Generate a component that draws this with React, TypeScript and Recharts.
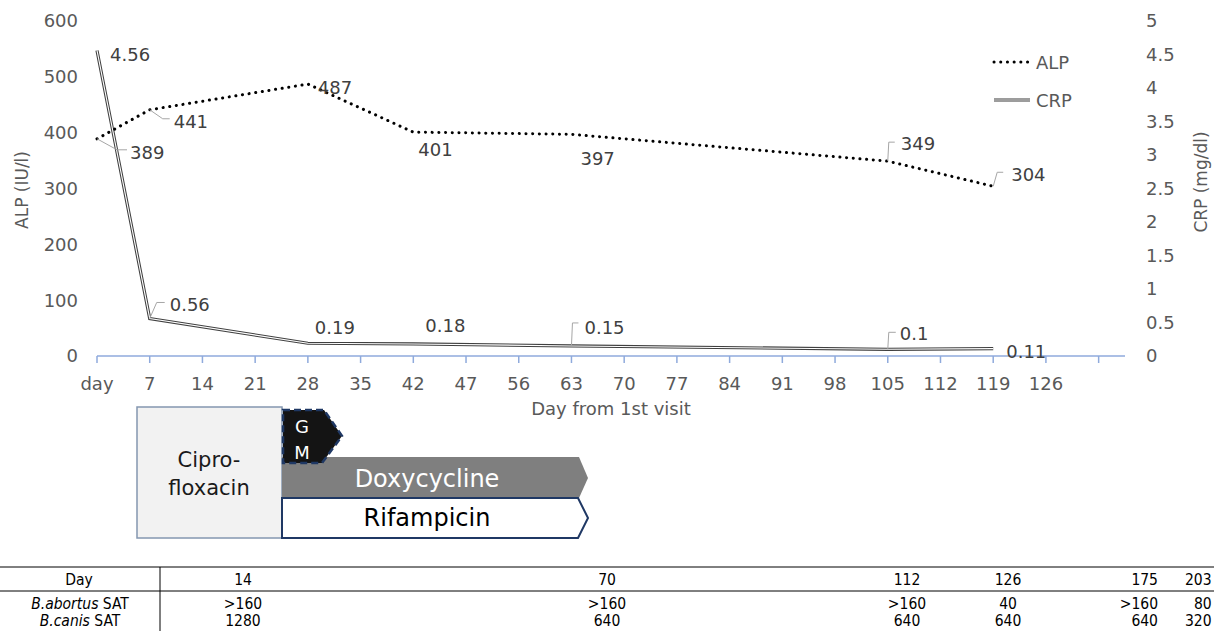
import React from 'react';
import { LineChart, Line, XAxis, YAxis, LabelList } from 'recharts';

// ---------- data ----------
const categories = ['day', '7', '14', '21', '28', '35', '42', '47', '56', '63', '70', '77', '84', '91', '98', '105', '112', '119', '126', ''];
const alpValues: (number | null)[] = [389, 441, null, null, 487, null, 401, null, null, 397, null, null, null, null, null, 349, null, 304, null, null];
const crpValues: (number | null)[] = [4.56, 0.56, null, null, 0.19, null, 0.18, null, null, 0.15, null, null, null, null, null, 0.1, null, 0.11, null, null];
const alpTicks = [0, 100, 200, 300, 400, 500, 600];
const crpTicks = [0, 0.5, 1, 1.5, 2, 2.5, 3, 3.5, 4, 4.5, 5];

const tableDays = ['14', '70', '112', '126', '175', '203'];
const abortusSat = ['>160', '>160', '>160', '40', '>160', '80'];
const canisSat = ['1280', '640', '640', '640', '640', '320'];

const data = categories.map((c, i) => ({ idx: i, label: c, alp: alpValues[i], crp: crpValues[i] }));

// ---------- label placement (style) ----------
type LabelCfg = { dx: number; dy: number; leader?: [number, number][] };
const alpLabelCfg: Record<number, LabelCfg> = {
  0: { dx: 33, dy: 14, leader: [[0, 0], [20, 11], [30, 11]] },
  1: { dx: 24, dy: 12, leader: [[0, 0], [13, 9], [20, 9]] },
  4: { dx: 10, dy: 3 },
  6: { dx: 5, dy: 17 },
  9: { dx: 9, dy: 24 },
  15: { dx: 13, dy: -18, leader: [[0, 0], [1, -19], [7, -19]] },
  17: { dx: 18, dy: -12, leader: [[0, 0], [4, -14], [10, -14]] },
};
const crpLabelCfg: Record<number, LabelCfg> = {
  0: { dx: 13, dy: 4 },
  1: { dx: 20, dy: -14, leader: [[0, 0], [7, -16], [15, -16]] },
  4: { dx: 7, dy: -16 },
  6: { dx: 12, dy: -18 },
  9: { dx: 13, dy: -18, leader: [[0, 0], [1, -23], [7, -23]] },
  15: { dx: 12, dy: -16, leader: [[0, 0], [1, -17], [8, -17]] },
  17: { dx: 13, dy: 3 },
};

const FONT = '"DejaVu Sans", Verdana, sans-serif';
const TEXT = '#595959';
const LABEL = '#404040';
const AXIS_BLUE = '#8FAADC';

const makeLabel = (values: (number | null)[], cfg: Record<number, LabelCfg>) => (props: any) => {
  const { x, y, value } = props;
  if (value == null || x == null || y == null) return null;
  let index = props.index;
  if (index == null || values[index] !== value) index = values.indexOf(value);
  const c = cfg[index];
  if (!c) return null;
  return (
    <g>
      {c.leader && (
        <polyline
          points={c.leader.map(([px, py]) => `${x + px},${y + py}`).join(' ')}
          fill="none"
          stroke="#A6A6A6"
          strokeWidth={1}
        />
      )}
      <text x={x + c.dx} y={y + c.dy} dominantBaseline="central" fontSize={18} fill={LABEL} fontFamily={FONT}>
        {String(value)}
      </text>
    </g>
  );
};

const xTicks = categories.map((_, i) => i);

const XLabel = (props: any) => {
  const vb = props.viewBox || {};
  return (
    <text x={vb.x + vb.width / 2} y={vb.y + 52} textAnchor="middle" dominantBaseline="central" fontSize={18} fill={TEXT} fontFamily={FONT}>
      Day from 1st visit
    </text>
  );
};

const YLabel = (props: any) => {
  const { cx, cy, text } = props;
  return (
    <text
      x={cx}
      y={cy}
      transform={`rotate(-90 ${cx} ${cy})`}
      textAnchor="middle"
      dominantBaseline="central"
      fontSize={17}
      fill={TEXT}
      fontFamily={FONT}
    >
      {text}
    </text>
  );
};

const Overlay = () => (
  <svg width={1214} height={631} style={{ position: 'absolute', left: 0, top: 0, pointerEvents: 'none' }} fontFamily={FONT}>
    {/* legend */}
    <line x1={994} y1={62} x2={1028} y2={62} stroke="#000" strokeWidth={3} strokeDasharray="0.1 6.6" strokeLinecap="round" />
    <text x={1036} y={62} dominantBaseline="central" fontSize={18} fill={TEXT}>ALP</text>
    <line x1={994} y1={100} x2={1030} y2={100} stroke="#3a3a3a" strokeWidth={3} />
    <line x1={994} y1={100} x2={1030} y2={100} stroke="#ffffff" strokeWidth={1.2} />
    <text x={1036} y={100} dominantBaseline="central" fontSize={18} fill={TEXT}>CRP</text>

    {/* treatments */}
    <rect x={137} y={407} width={145} height={131} fill="#F2F2F2" stroke="#8497B0" strokeWidth={1.5} />
    <text x={209} y={460} textAnchor="middle" dominantBaseline="central" fontSize={21} fill="#1a1a1a">Cipro-</text>
    <text x={209} y={488} textAnchor="middle" dominantBaseline="central" fontSize={21} fill="#1a1a1a">floxacin</text>

    <polygon points="282,457 579,457 588,478 579,498 282,498" fill="#7F7F7F" />
    <text x={427} y={479} textAnchor="middle" dominantBaseline="central" fontSize={24} fill="#fff">Doxycycline</text>

    <polygon points="282,498 578,498 588,518 578,538 282,538" fill="#fff" stroke="#1F3864" strokeWidth={2} />
    <text x={427} y={518} textAnchor="middle" dominantBaseline="central" fontSize={24} fill="#000">Rifampicin</text>

    <polygon points="283,410 324,410 342,436 322,463 283,463" fill="#141414" stroke="#1F3864" strokeWidth={2.5} strokeDasharray="7 4" />
    <text x={302} y={426} textAnchor="middle" dominantBaseline="central" fontSize={18} fill="#fff">G</text>
    <text x={302} y={452} textAnchor="middle" dominantBaseline="central" fontSize={18} fill="#fff">M</text>

    {/* table */}
    <line x1={0} y1={567} x2={1214} y2={567} stroke="#000" strokeWidth={1} />
    <line x1={0} y1={591} x2={1214} y2={591} stroke="#000" strokeWidth={1} />
    <line x1={160} y1={567} x2={160} y2={631} stroke="#000" strokeWidth={1} />
    <g fontFamily='"DejaVu Sans Condensed", "DejaVu Sans", sans-serif' fontSize={15.5} fill="#000">
      <text x={79} y={580} textAnchor="middle" dominantBaseline="central">Day</text>
      <text x={80} y={604} textAnchor="middle" dominantBaseline="central">
        <tspan fontStyle="italic">B.abortus</tspan> SAT
      </text>
      <text x={80} y={621} textAnchor="middle" dominantBaseline="central">
        <tspan fontStyle="italic">B.canis</tspan> SAT
      </text>
      {tableDays.map((d, i) => {
        const cx = [243, 607, 907, 1008, 1142, 1198][i];
        const anchor = i === 4 ? 'end' : i === 5 ? 'start' : 'middle';
        const ax = i === 4 ? 1158 : i === 5 ? 1185 : cx;
        return (
          <g key={d}>
            <text x={ax} y={580} textAnchor={anchor} dominantBaseline="central">{d}</text>
            <text x={i === 5 ? 1194 : ax} y={604} textAnchor={anchor} dominantBaseline="central">{abortusSat[i]}</text>
            <text x={ax} y={621} textAnchor={anchor} dominantBaseline="central">{canisSat[i]}</text>
          </g>
        );
      })}
    </g>
  </svg>
);

export default function App() {
  return (
    <div style={{ position: 'absolute', left: 0, top: 0, width: 1214, height: 631, background: '#fff', fontFamily: FONT }}>
      <LineChart width={1214} height={631} data={data} margin={{ top: 21, right: 0, bottom: 215, left: 0 }} style={{ fontFamily: FONT }}>
        <XAxis
          dataKey="idx"
          type="number"
          domain={[0, 19.5]}
          ticks={xTicks}
          tickFormatter={(v: number) => categories[v] ?? ''}
          interval={0}
          height={60}
          axisLine={{ stroke: AXIS_BLUE, strokeWidth: 1.5 }}
          tickLine={{ stroke: AXIS_BLUE, strokeWidth: 1.5 }}
          tickSize={7}
          tickMargin={14}
          tick={{ fill: TEXT, fontSize: 18, fontFamily: FONT }}
          label={<XLabel />}
        />
        <YAxis
          yAxisId="left"
          domain={[0, 600]}
          ticks={alpTicks}
          width={97}
          axisLine={false}
          tickLine={false}
          tickSize={6}
          tickMargin={13}
          tick={{ fill: TEXT, fontSize: 18, fontFamily: FONT }}
          label={(p: any) => <YLabel {...p} cx={22} cy={190} text="ALP (IU/l)" />}
        />
        <YAxis
          yAxisId="right"
          orientation="right"
          domain={[0, 5]}
          ticks={crpTicks}
          width={89}
          axisLine={false}
          tickLine={false}
          tickSize={6}
          tickMargin={15}
          tick={{ fill: TEXT, fontSize: 18, fontFamily: FONT, textAnchor: 'start' }}
          label={(p: any) => <YLabel {...p} cx={1201} cy={182} text="CRP (mg/dl)" />}
        />
        <Line
          yAxisId="right"
          dataKey="crp"
          type="linear"
          stroke="#404040"
          strokeWidth={3.2}
          dot={false}
          activeDot={false}
          connectNulls
          isAnimationActive={false}
        />
        <Line
          yAxisId="right"
          dataKey="crp"
          type="linear"
          stroke="#ffffff"
          strokeWidth={1.1}
          dot={false}
          activeDot={false}
          connectNulls
          isAnimationActive={false}
        >
          <LabelList dataKey="crp" content={makeLabel(crpValues, crpLabelCfg)} />
        </Line>
        <Line
          yAxisId="left"
          dataKey="alp"
          type="linear"
          stroke="#000000"
          strokeWidth={3}
          strokeDasharray="0.1 6.6"
          strokeLinecap="round"
          dot={false}
          activeDot={false}
          connectNulls
          isAnimationActive={false}
        >
          <LabelList dataKey="alp" content={makeLabel(alpValues, alpLabelCfg)} />
        </Line>
      </LineChart>
      <Overlay />
    </div>
  );
}
